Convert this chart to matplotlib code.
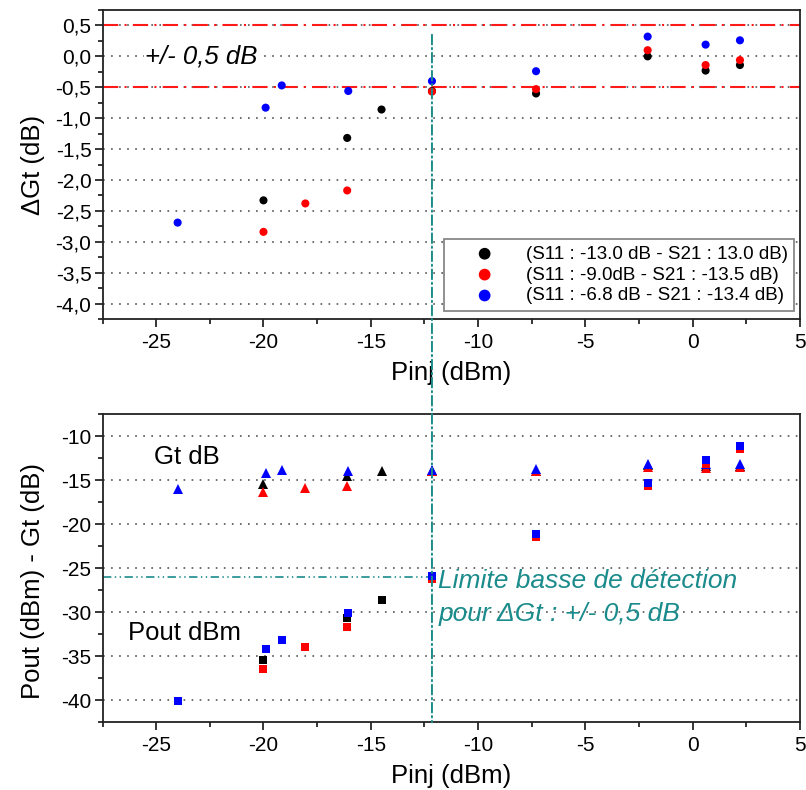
import numpy as np
import matplotlib
matplotlib.use("Agg")
import matplotlib.pyplot as plt
from matplotlib.ticker import MultipleLocator, FuncFormatter
from matplotlib.patches import ConnectionPatch

plt.rcParams['font.family'] = ['Liberation Sans', 'DejaVu Sans']
plt.rcParams['axes.unicode_minus'] = False
plt.rcParams['lines.scale_dashes'] = False

# --- top plot : delta Gt (dB) vs Pinj (dBm)
pinj_k = [-20.0, -16.1, -14.5, -12.15, -7.3, -2.1, 0.6, 2.2]
dgt_k = [-2.33, -1.32, -0.86, -0.56, -0.60, 0.0, -0.23, -0.14]
pinj_r = [-20.0, -18.05, -16.1, -12.15, -7.3, -2.1, 0.6, 2.2]
dgt_r = [-2.84, -2.38, -2.17, -0.57, -0.53, 0.10, -0.14, -0.06]
pinj_b = [-24.0, -19.9, -19.15, -16.05, -12.15, -7.3, -2.1, 0.6, 2.2]
dgt_b = [-2.69, -0.83, -0.47, -0.56, -0.40, -0.24, 0.32, 0.19, 0.26]

legend_labels = ['(S11 : -13.0 dB - S21 : 13.0 dB)',
                 '(S11 : -9.0dB - S21 : -13.5 dB)',
                 '(S11 : -6.8 dB - S21 : -13.4 dB)']

# --- bottom plot : Gt (dB) and Pout (dBm)
gt_k = [-15.4, -14.5, -14.0, -13.9, -13.9, -13.3, -13.4, -13.4]
gt_r = [-16.3, -15.9, -15.6, -14.0, -14.0, -13.45, -13.6, -13.5]
gt_b = [-16.0, -14.2, -13.8, -13.9, -13.8, -13.7, -13.1, -13.2, -13.2]
pout_k = [-35.45, -30.6, -28.6, -26.0, -21.2, -15.4, -12.8, -11.2]
pout_r = [-36.4, -33.9, -31.7, -26.25, -21.4, -15.6, -13.2, -11.4]
pout_b = [-40.1, -34.2, -33.1, -30.1, -25.9, -21.1, -15.3, -12.7, -11.1]

seuil_dgt = 0.5
pinj_limite = -12.15
pout_limite = -26.0

teal = '#1b8b8b'
red = '#ff1a1a'

fig = plt.figure(figsize=(8.06, 7.9), dpi=100)
ax1 = fig.add_axes([0.1272, 0.5962, 0.8654, 0.3911])
ax2 = fig.add_axes([0.1272, 0.0857, 0.8654, 0.3899])

comma = FuncFormatter(lambda v, p: f'{v:.1f}'.replace('.', ','))
grid_style = dict(color='#555555', linestyle=(0, (1.2, 4.6)), linewidth=1.2)

for ax in (ax1, ax2):
    ax.set_xlim(-27.5, 5)
    ax.xaxis.set_major_locator(MultipleLocator(5))
    ax.xaxis.set_minor_locator(MultipleLocator(2.5))
    ax.tick_params(which='major', direction='out', length=6, width=1.1,
                   labelsize=15, pad=4, top=False, right=False)
    ax.tick_params(which='minor', direction='out', length=3.5, width=1.1,
                   top=False, right=False)
    ax.tick_params(axis='y', which='major', pad=2)
    for s in ax.spines.values():
        s.set_linewidth(1.3)
        s.set_color('#222222')
    ax.yaxis.grid(True, **grid_style)
    ax.set_axisbelow(True)
    ax.set_xlabel('Pinj (dBm)', fontsize=18.5)
    ax.xaxis.set_label_coords(0.5, -0.135)

# top
ax1.set_ylim(-4.25, 0.75)
ax1.yaxis.set_major_locator(MultipleLocator(0.5))
ax1.yaxis.set_minor_locator(MultipleLocator(0.25))
ax1.yaxis.set_major_formatter(comma)
ax1.set_ylabel('ΔGt (dB)', fontsize=18.5)
ax1.yaxis.set_label_coords(-0.083, 0.5)

for yv in (seuil_dgt, -seuil_dgt):
    ax1.axhline(yv, color=red, linewidth=1.5, linestyle=(0, (11, 4.5, 1.5, 4.5)), zorder=2)

ax1.scatter(pinj_k, dgt_k, s=34, color='black', edgecolors='none', zorder=3, label=legend_labels[0])
ax1.scatter(pinj_r, dgt_r, s=34, color='red', edgecolors='none', zorder=3, label=legend_labels[1])
ax1.scatter(pinj_b, dgt_b, s=34, color='blue', edgecolors='none', zorder=3, label=legend_labels[2])

ax1.text(-25.5, 0.0, '+/- 0,5 dB', fontsize=18.5, style='italic', va='center', ha='left',
         bbox=dict(facecolor='white', edgecolor='none', pad=1))

leg = ax1.legend(loc='lower right', bbox_to_anchor=(0.992, 0.026), borderaxespad=0,
                 fontsize=13.5, frameon=True, fancybox=False, framealpha=1,
                 edgecolor='#888888', handletextpad=0.4, borderpad=0.35,
                 labelspacing=0.2, handlelength=3.6, scatterpoints=1, markerscale=1.45)
leg.get_frame().set_linewidth(1.3)
leg.set_zorder(5)

# bottom
ax2.set_ylim(-42.5, -7.5)
ax2.yaxis.set_major_locator(MultipleLocator(5))
ax2.yaxis.set_minor_locator(MultipleLocator(2.5))
ax2.set_ylabel('Pout (dBm) - Gt (dB)', fontsize=18.5)
ax2.yaxis.set_label_coords(-0.083, 0.46)

ax2.plot(pinj_k, gt_k, '^', color='black', markersize=6.8, markeredgewidth=0, zorder=3)
ax2.plot(pinj_r, gt_r, '^', color='red', markersize=6.8, markeredgewidth=0, zorder=3)
ax2.plot(pinj_b, gt_b, '^', color='blue', markersize=6.8, markeredgewidth=0, zorder=3)
ax2.plot(pinj_k, pout_k, 's', color='black', markersize=5.4, markeredgewidth=0, zorder=3)
ax2.plot(pinj_r, pout_r, 's', color='red', markersize=5.4, markeredgewidth=0, zorder=3)
ax2.plot(pinj_b, pout_b, 's', color='blue', markersize=5.4, markeredgewidth=0, zorder=3)

ax2.plot([-27.5, pinj_limite], [pout_limite, pout_limite], color=teal, linewidth=1.2,
         linestyle=(0, (6, 2.5, 1, 2.5, 1, 2.5)), zorder=2)

ax2.text(-25.1, -12.4, 'Gt dB', fontsize=18.5, va='center', ha='left')
ax2.text(-26.3, -32.3, 'Pout dBm', fontsize=18.5, va='center', ha='left')
ax2.text(-11.85, -26.4, 'Limite basse de détection', fontsize=19, style='italic',
         color=teal, va='center', ha='left')
ax2.text(-11.85, -30.2, 'pour ΔGt : +/- 0,5 dB', fontsize=19, style='italic',
         color=teal, va='center', ha='left')

# vertical limit line running through both plots
con = ConnectionPatch(xyA=(pinj_limite, 0.35), coordsA=ax1.transData,
                      xyB=(pinj_limite, -42.5), coordsB=ax2.transData,
                      color=teal, linewidth=1.4, linestyle=(0, (7, 2.5, 1, 2.5)))
fig.add_artist(con)

fig.savefig('out.png', dpi=100)
